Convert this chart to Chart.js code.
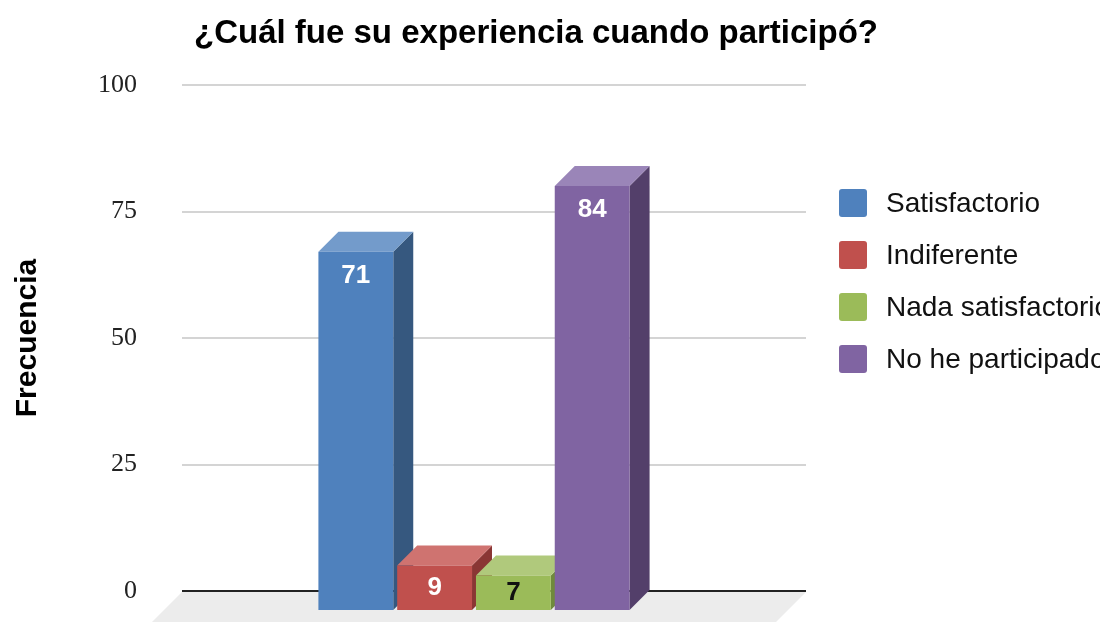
<!DOCTYPE html>
<html lang="es">
<head>
<meta charset="utf-8">
<title>Frecuencia</title>
<script src="https://cdn.jsdelivr.net/npm/chart.js@4.4.1/dist/chart.umd.min.js"></script>
<style>
  html, body { margin: 0; padding: 0; background: #fff; overflow: hidden; }
  canvas { display: block; }
</style>
</head>
<body>
<canvas id="chart" width="1100" height="622"></canvas>
<script>
const categories = ['Satisfactorio', 'Indiferente', 'Nada satisfactorio', 'No he participado'];
const counts = [71, 9, 7, 84];
const yTicks = [0, 25, 50, 75, 100];

const frontColors = ['#4f81bd', '#c0504d', '#9bbb59', '#8064a2'];
const sideColors = ['#36587f', '#8a3634', '#6f8a3c', '#533f6a'];
const topColors = ['#739bcb', '#cf7370', '#b0c97c', '#9a85b8'];
const labelColors = ['#fff', '#fff', '#111', '#fff'];

const SANS = '"Liberation Sans", Arial, Helvetica, sans-serif';
const DEPTH = 20;

// floor + side/top faces behind the bars, then shift the front faces
const bars3d = {
  id: 'bars3d',
  beforeDatasetsDraw(chart) {
    const { ctx, chartArea: a } = chart;
    ctx.save();
    ctx.fillStyle = '#ececec';
    ctx.beginPath();
    ctx.moveTo(a.left, a.bottom + 1);
    ctx.lineTo(a.right, a.bottom + 1);
    ctx.lineTo(a.right - 40, a.bottom + 41);
    ctx.lineTo(a.left - 40, a.bottom + 41);
    ctx.closePath();
    ctx.fill();

    chart.data.datasets.forEach((ds, i) => {
      const bar = chart.getDatasetMeta(i).data[0];
      const { x, y, base, width } = bar.getProps(['x', 'y', 'base', 'width'], true);
      const l = x - width / 2, r = x + width / 2;
      ctx.fillStyle = sideColors[i];
      ctx.beginPath();
      ctx.moveTo(r - DEPTH, y + DEPTH);
      ctx.lineTo(r, y);
      ctx.lineTo(r, base);
      ctx.lineTo(r - DEPTH, base + DEPTH);
      ctx.closePath();
      ctx.fill();
      ctx.fillStyle = topColors[i];
      ctx.beginPath();
      ctx.moveTo(l - DEPTH, y + DEPTH);
      ctx.lineTo(l, y);
      ctx.lineTo(r, y);
      ctx.lineTo(r - DEPTH, y + DEPTH);
      ctx.closePath();
      ctx.fill();
    });
    ctx.restore();
    ctx.save();
    ctx.translate(-DEPTH, DEPTH);
  },
  afterDatasetsDraw(chart) {
    const { ctx } = chart;
    ctx.restore();
    ctx.save();
    ctx.font = 'bold 26px ' + SANS;
    ctx.textAlign = 'center';
    ctx.textBaseline = 'middle';
    chart.data.datasets.forEach((ds, i) => {
      const bar = chart.getDatasetMeta(i).data[0];
      const { x, y, base } = bar.getProps(['x', 'y', 'base'], true);
      const ly = Math.min(y + 24, (y + base) / 2);
      ctx.fillStyle = labelColors[i];
      ctx.fillText(String(ds.data[0]), x - DEPTH, ly + DEPTH);
    });
    ctx.restore();
  },
  afterDraw(chart) {
    const { ctx } = chart;
    ctx.save();
    // title
    ctx.fillStyle = '#000';
    ctx.font = 'bold 33px ' + SANS;
    ctx.textAlign = 'center';
    ctx.textBaseline = 'middle';
    ctx.fillText('¿Cuál fue su experiencia cuando participó?', 536, 34);
    // legend
    ctx.font = '28px ' + SANS;
    ctx.textAlign = 'left';
    chart.data.datasets.forEach((ds, i) => {
      const cy = 203 + i * 52;
      ctx.fillStyle = ds.backgroundColor;
      ctx.beginPath();
      ctx.roundRect(839, cy - 14, 28, 28, 3);
      ctx.fill();
      ctx.fillStyle = '#111';
      ctx.fillText(ds.label, 886, cy + 1);
    });
    ctx.restore();
  }
};

const chart = new Chart(document.getElementById('chart'), {
  type: 'bar',
  data: {
    labels: [''],
    datasets: categories.map((name, i) => ({
      label: name,
      data: [counts[i]],
      backgroundColor: frontColors[i],
      borderWidth: 0,
      barPercentage: 0.95,
      categoryPercentage: 0.505
    }))
  },
  options: {
    responsive: false,
    animation: false,
    devicePixelRatio: 1,
    layout: { padding: { left: 0, right: 294, top: 85, bottom: 31 } },
    plugins: {
      legend: { display: false },
      title: { display: false },
      tooltip: { enabled: false }
    },
    scales: {
      x: { display: false },
      y: {
        min: 0,
        max: 100,
        afterBuildTicks: s => { s.ticks = yTicks.map(v => ({ value: v })); },
        afterFit: s => { s.width = 182; },
        border: { display: false },
        grid: {
          drawTicks: true,
          tickLength: 45,
          tickColor: 'rgba(0,0,0,0)',
          lineWidth: 2,
          color: c => (c.tick && c.tick.value === 0 ? '#222' : '#d4d4d4')
        },
        ticks: {
          padding: 0,
          color: '#222',
          font: { family: '"Liberation Serif", "Times New Roman", serif', size: 26 }
        },
        title: {
          display: true,
          text: 'Frecuencia',
          color: '#000',
          font: { family: SANS, size: 30, weight: 'bold' },
          padding: { top: 10, bottom: 0 }
        }
      }
    }
  },
  plugins: [bars3d]
});
</script>
</body>
</html>
